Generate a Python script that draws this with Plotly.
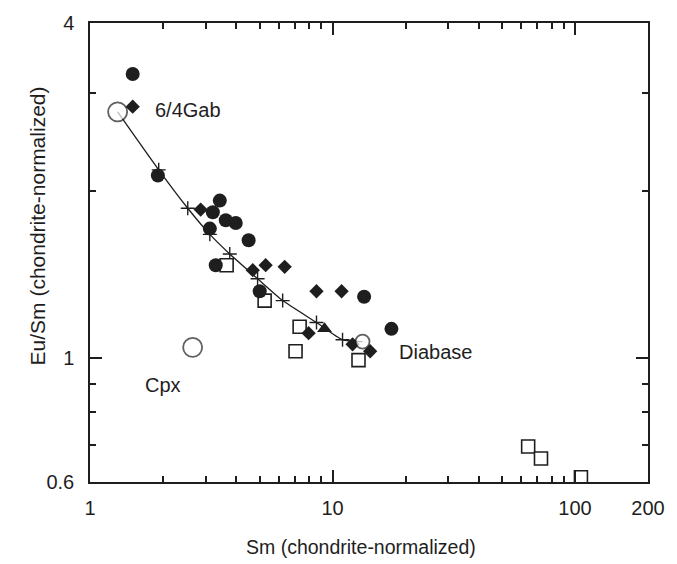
import plotly.graph_objects as go

# ---- data (Sm chondrite-normalized, Eu/Sm chondrite-normalized) ----
circ_x = [1.50, 1.905, 3.43, 3.21, 3.12, 3.63, 3.99, 4.51, 3.30, 5.01, 13.5, 17.5]
circ_y = [3.24, 2.13, 1.92, 1.83, 1.71, 1.77, 1.75, 1.63, 1.47, 1.32, 1.29, 1.13]

diam_x = [1.50, 2.86, 4.69, 5.30, 6.35, 8.59, 10.9, 7.97, 12.1, 14.3]
diam_y = [2.83, 1.85, 1.44, 1.47, 1.46, 1.32, 1.32, 1.11, 1.06, 1.03]

tri_x = [9.27]
tri_y = [1.13]

sq_x = [3.66, 5.25, 7.32, 7.04, 12.8, 64.1, 72.4, 105.8]
sq_y = [1.47, 1.27, 1.14, 1.03, 0.993, 0.695, 0.661, 0.612]

ref_names = ["6/4Gab", "Cpx", "Diabase"]
ref_x = [1.30, 2.65, 13.3]
ref_y = [2.77, 1.047, 1.072]
ref_size = [19, 19, 14]

mix_x = [1.30, 1.92, 2.53, 3.12, 3.77, 4.91, 6.23, 8.59, 11.0, 13.3]
mix_y = [2.77, 2.18, 1.86, 1.67, 1.54, 1.39, 1.27, 1.16, 1.08, 1.072]

x_ticks = [1, 10, 100, 200]
x_minor = [2, 3, 4, 5, 6, 7, 8, 9, 20, 30, 40, 50, 60, 70, 80, 90]
y_ticks = [0.6, 1, 4]
y_minor = [0.7, 0.8, 0.9, 2, 3]

INK = "#1e1e1e"
FONT = "Liberation Sans, Arial, sans-serif"

fig = go.Figure()

# mixing curve
fig.add_trace(go.Scatter(x=mix_x, y=mix_y, mode="lines",
                         line=dict(color=INK, width=1.3, shape="spline", smoothing=0.5),
                         hoverinfo="skip", showlegend=False))
# plus markers along curve
fig.add_trace(go.Scatter(x=mix_x[1:-1], y=mix_y[1:-1], mode="markers",
                         marker=dict(symbol="cross-thin-open", size=10, color=INK,
                                     line=dict(color=INK, width=1.4)),
                         showlegend=False))
# open squares
fig.add_trace(go.Scatter(x=sq_x, y=sq_y, mode="markers",
                         marker=dict(symbol="square", size=13, color="white",
                                     line=dict(color=INK, width=1.6)),
                         showlegend=False))
# filled circles
fig.add_trace(go.Scatter(x=circ_x, y=circ_y, mode="markers",
                         marker=dict(symbol="circle", size=14, color=INK,
                                     line=dict(width=0)),
                         showlegend=False))
# filled diamonds
fig.add_trace(go.Scatter(x=diam_x, y=diam_y, mode="markers",
                         marker=dict(symbol="diamond", size=11, color=INK,
                                     line=dict(width=0)),
                         showlegend=False))
# triangle
fig.add_trace(go.Scatter(x=tri_x, y=tri_y, mode="markers",
                         marker=dict(symbol="triangle-up", size=13, color=INK,
                                     line=dict(width=0)),
                         showlegend=False))
# reference compositions (open circles)
fig.add_trace(go.Scatter(x=ref_x, y=ref_y, mode="markers",
                         marker=dict(symbol="circle", size=ref_size, color="white",
                                     line=dict(color=INK, width=1.8)),
                         text=ref_names, showlegend=False))

W, H = 677, 564
L, R, T, B = 90, 29, 15, 82
pw, ph = W - L - R, H - T - B


def px(xp, yp):
    return (xp - L) / pw, (H - B - yp) / ph


labels = [("6/4Gab", 153, 104), ("Cpx", 143, 383), ("Diabase", 397, 350)]
for txt, xp, yp in labels:
    ax, ay = px(xp, yp)
    fig.add_annotation(x=ax, y=ay, xref="paper", yref="paper", text=txt,
                       showarrow=False, xanchor="left", yanchor="middle",
                       font=dict(family=FONT, size=20, color=INK))

ax, ay = px(361, 548)
fig.add_annotation(x=ax, y=ay, xref="paper", yref="paper",
                   text="Sm (chondrite-normalized)", showarrow=False,
                   xanchor="center", yanchor="middle",
                   font=dict(family=FONT, size=19.5, color=INK))
ax, ay = px(37, 222)
fig.add_annotation(x=ax, y=ay, xref="paper", yref="paper",
                   text="Eu/Sm (chondrite-normalized)", showarrow=False,
                   textangle=-90, xanchor="center", yanchor="middle",
                   font=dict(family=FONT, size=21, color=INK))

axis_common = dict(showline=True, linecolor=INK, linewidth=1.5, mirror="ticks",
                   ticks="inside", ticklen=12, tickwidth=1.5, tickcolor=INK,
                   showgrid=False, zeroline=False,
                   tickfont=dict(family=FONT, size=20, color=INK))

fig.update_xaxes(type="log", range=[0, 2.30103], tickvals=x_ticks,
                 ticktext=[str(v) for v in x_ticks], ticklabelstandoff=7,
                 minor=dict(tickvals=x_minor, ticks="inside", ticklen=6,
                            tickwidth=1.5, tickcolor=INK, showgrid=False),
                 **axis_common)
fig.update_yaxes(type="log", range=[-0.221849, 0.60206], tickvals=y_ticks,
                 ticktext=["0.6", "1", "4"], ticklabelstandoff=10,
                 minor=dict(tickvals=y_minor, ticks="inside", ticklen=6,
                            tickwidth=1.5, tickcolor=INK, showgrid=False),
                 **axis_common)

fig.update_layout(width=W, height=H, margin=dict(l=L, r=R, t=T, b=B),
                  paper_bgcolor="white", plot_bgcolor="white",
                  showlegend=False)

fig.write_html("out.html")
